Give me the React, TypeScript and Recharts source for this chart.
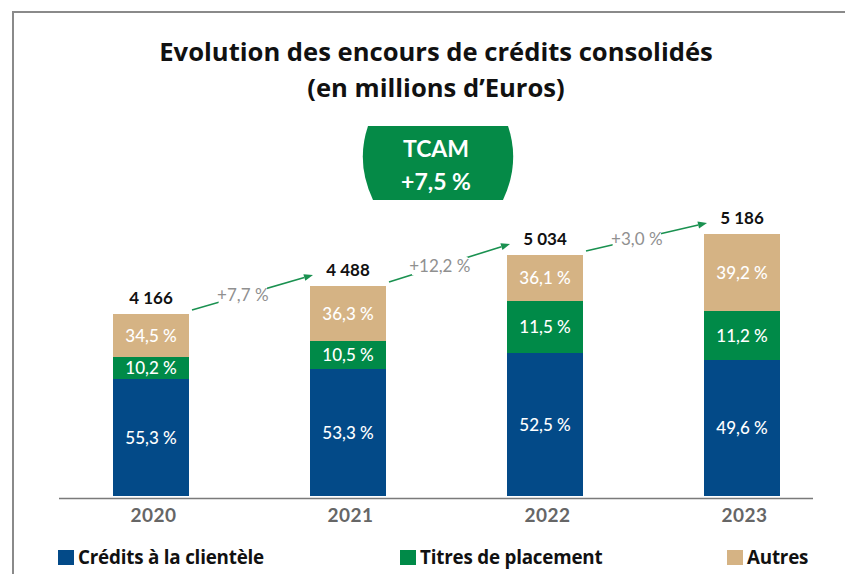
import React from 'react';
import { BarChart, Bar, XAxis, YAxis, LabelList, Legend } from 'recharts';

// ---- data ----
const YEARS = ['2020', '2021', '2022', '2023'];
const TOTALS = [4166, 4488, 5034, 5186];
const PCT_CREDITS = [55.3, 53.3, 52.5, 49.6];
const PCT_TITRES = [10.2, 10.5, 11.5, 11.2];
const PCT_AUTRES = [34.5, 36.3, 36.1, 39.2];
const GROWTH = [7.7, 12.2, 3.0];
const TCAM = 7.5;
// segment heights as drawn in the picture (chart units)
const H_CREDITS = [117, 127, 143, 136];
const H_TITRES = [22, 28, 52, 49];
const H_AUTRES = [43, 55, 46, 77];

const SERIES_NAMES = ['Crédits à la clientèle', 'Titres de placement', 'Autres'];
const COLORS = ['#034a88', '#008a48', '#d5b384'];

const W = 845;
const H = 574;
const M = { top: 196, right: 5, bottom: 48, left: 52 };
const STEP = (W - M.left - M.right) / YEARS.length;
const FONT = 'Lato, "Open Sans", sans-serif';
const FONT2 = '"Open Sans", Lato, sans-serif';

const fmtPct = (n: number) => n.toFixed(1).replace('.', ',') + ' %';
const fmtTotal = (n: number) => `${Math.floor(n / 1000)} ${String(n % 1000).padStart(3, '0')}`;

const data = YEARS.map((y, i) => ({
  year: y,
  credits: H_CREDITS[i],
  titres: H_TITRES[i],
  autres: H_AUTRES[i],
  lCredits: fmtPct(PCT_CREDITS[i]),
  lTitres: fmtPct(PCT_TITRES[i]),
  lAutres: fmtPct(PCT_AUTRES[i]),
  lTotal: fmtTotal(TOTALS[i]),
}));

const YearTick = (props: any) => {
  const { x, y, payload } = props;
  return (
    <text x={Number(x) + 3} y={Number(y) + 18} textAnchor="middle" fill="#666" fontFamily={FONT}
      fontWeight={700} fontSize={19} letterSpacing={0.5}>
      {payload.value}
    </text>
  );
};

const ArrowLabel = (props: any) => {
  const { index } = props;
  const x = Number(props.x), y = Number(props.y), w = Number(props.width), h = Number(props.height);
  if (index == null || index >= YEARS.length - 1) return null;
  const ppu = h / H_AUTRES[index];
  const totNow = H_CREDITS[index] + H_TITRES[index] + H_AUTRES[index];
  const totNext = H_CREDITS[index + 1] + H_TITRES[index + 1] + H_AUTRES[index + 1];
  const nextTop = y - (totNext - totNow) * ppu;
  const x1 = x + w + 3, y1 = y - 4;
  const x2 = x + STEP + 3, y2 = nextTop - 11;
  const t = 0.42;
  const cx = x1 + (x2 - x1) * t, cy = y1 + (y2 - y1) * t;
  const txt = '+' + GROWTH[index].toFixed(1).replace('.', ',') + ' %';
  const tw = txt.length * 7.4;
  const ang = Math.atan2(y2 - y1, x2 - x1);
  const ah = 9, aw = 3.5;
  const bx = x2 - ah * Math.cos(ang), by = y2 - ah * Math.sin(ang);
  const p1 = `${bx - aw * Math.sin(ang)},${by + aw * Math.cos(ang)}`;
  const p2 = `${bx + aw * Math.sin(ang)},${by - aw * Math.cos(ang)}`;
  return (
    <g>
      <line x1={x1} y1={y1} x2={bx} y2={by} stroke="#1a9150" strokeWidth={1.6} />
      <polygon points={`${x2},${y2} ${p1} ${p2}`} fill="#1a9150" />
      <rect x={cx - tw / 2 - 2} y={cy - 9} width={tw + 4} height={18} fill="#fff" />
      <text x={cx} y={cy + 6} textAnchor="middle" fill="#909090" fontFamily={FONT} fontSize={17}>
        {txt}
      </text>
    </g>
  );
};

const LEGEND_X = [58, 400, 727];
const LegendContent = () => (
  <div style={{ position: 'relative', width: W, height: 24 }}>
    {SERIES_NAMES.map((n, i) => (
      <div key={n} style={{ position: 'absolute', left: LEGEND_X[i], top: 0, height: 24, display: 'flex', alignItems: 'center' }}>
        <span style={{ display: 'inline-block', width: 16, height: 15, background: COLORS[i], marginRight: 4 }} />
        <span style={{ fontFamily: FONT2, fontWeight: 700, fontSize: 18.8, color: '#111', lineHeight: '24px', letterSpacing: -0.2 }}>{n}</span>
      </div>
    ))}
  </div>
);

export default function App() {
  const segLabel = { fill: '#fff', fontFamily: FONT, fontSize: 17, fontWeight: 500 } as any;
  return (
    <div style={{ position: 'absolute', left: 0, top: 0, width: W, height: H, background: '#fff' }}>
      <BarChart width={W} height={H} data={data} margin={M}>
        <XAxis dataKey="year" height={30} axisLine={false} tickLine={false} interval={0} tick={<YearTick />} />
        <YAxis hide domain={[0, 300]} />
        <Legend verticalAlign="middle" align="center" layout="horizontal"
          wrapperStyle={{ left: 0, top: 545, width: W, height: 24 }} content={<LegendContent />} />
        <Bar dataKey="credits" name={SERIES_NAMES[0]} stackId="a" fill={COLORS[0]} barSize={76} isAnimationActive={false}>
          <LabelList dataKey="lCredits" position="center" style={segLabel} />
        </Bar>
        <Bar dataKey="titres" name={SERIES_NAMES[1]} stackId="a" fill={COLORS[1]} barSize={76} isAnimationActive={false}>
          <LabelList dataKey="lTitres" position="center" style={segLabel} />
        </Bar>
        <Bar dataKey="autres" name={SERIES_NAMES[2]} stackId="a" fill={COLORS[2]} barSize={76} isAnimationActive={false}>
          <LabelList dataKey="lAutres" position="center" style={segLabel} />
          <LabelList dataKey="lTotal" position="top" offset={10}
            style={{ fill: '#111', fontFamily: FONT, fontSize: 17, fontWeight: 700 }} />
          <LabelList dataKey="autres" content={<ArrowLabel />} />
        </Bar>
      </BarChart>
      <svg width={W} height={H} style={{ position: 'absolute', left: 0, top: 0, pointerEvents: 'none' }}>
        <polyline points={`13,${H} 13,12 ${W},12`} fill="none" stroke="#8a8a8a" strokeWidth={2} />
        <line x1={59} y1={498.5} x2={813} y2={498.5} stroke="#7a7a7a" strokeWidth={1.5} />
        <text x={436} y={61} textAnchor="middle" fontFamily={FONT2} fontWeight={700} fontSize={25.6} fill="#111">
          Evolution des encours de crédits consolidés
        </text>
        <text x={436} y={97} textAnchor="middle" fontFamily={FONT2} fontWeight={700} fontSize={25.6} fill="#111">
          (en millions d’Euros)
        </text>
        <path d="M 368 126 L 508 126 Q 520.5 163 503 200 L 373 200 Q 355.5 163 368 126 Z" fill="#058a47" />
        <text x={436} y={157} textAnchor="middle" fontFamily={FONT} fontWeight={700} fontSize={23} fill="#fff">TCAM</text>
        <text x={436} y={190} textAnchor="middle" fontFamily={FONT} fontWeight={700} fontSize={23} fill="#fff">
          {'+' + TCAM.toFixed(1).replace('.', ',') + ' %'}
        </text>
      </svg>
    </div>
  );
}
